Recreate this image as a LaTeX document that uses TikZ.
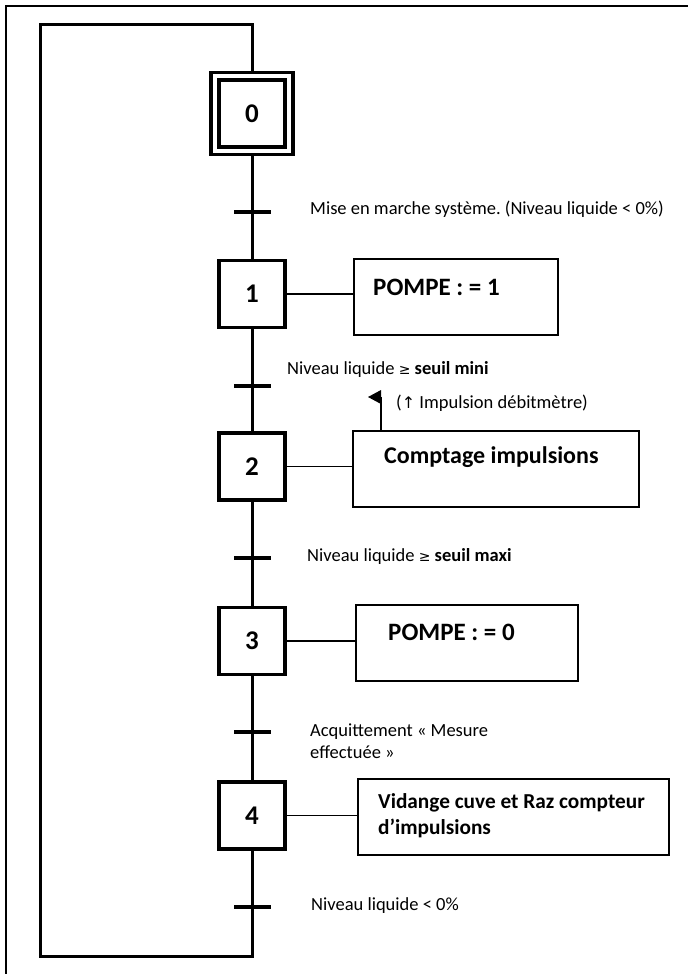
\documentclass[tikz,border=0pt]{standalone}
\usepackage{fontspec}
\setmainfont{Carlito}
\newfontfamily\symfont{DejaVu Sans}
\usetikzlibrary{positioning}
\frenchspacing
\begin{document}
\begin{tikzpicture}[x=1pt,y=-1pt,
  stepbox/.style={draw,line width=3.4pt,minimum width=66pt,minimum height=67pt,inner sep=0pt,font=\fontsize{27}{29}\selectfont\bfseries},
  actbox/.style={draw,line width=1.6pt,inner sep=0pt,anchor=north west},
  acttext/.style={anchor=west,inner sep=0pt,font=\fontsize{25}{28}\selectfont\bfseries},
  lbl/.style={anchor=west,inner sep=0pt,font=\fontsize{18.5}{22}\selectfont},
  flow/.style={line width=3pt},
  trans/.style={line width=3.2pt},
  link/.style={line width=1.5pt}]
\useasboundingbox (0,0) rectangle (688,974);
% outer frame (top and left)
\draw[line width=1.8pt] (6,974) -- (6,6) -- (688,6);

% step 0 (double box)
\node[draw,line width=3.8pt,minimum width=82pt,minimum height=82pt,inner sep=0pt] (s0) at (252,113.5) {};
\node[draw,line width=3.2pt,minimum width=66pt,minimum height=67pt,inner sep=0pt,font=\fontsize{27}{29}\selectfont\bfseries] (s0i) at (252,113.5) {0};

% steps
\node[stepbox] (s1) at (252,294) {1};
\node[stepbox] (s2) at (252,466.5) {2};
\node[stepbox] (s3) at (252,641) {3};
\node[stepbox] (s4) at (252,815.5) {4};

% action boxes
\node[actbox,minimum width=204pt,minimum height=76pt] (a1) at (353,258) {};
\node[acttext] (t1) at (373,287) {POMPE : = 1};
\node[actbox,minimum width=286pt,minimum height=76pt] (a2) at (352,430) {};
\node[acttext,font=\fontsize{24}{27}\selectfont\bfseries] (t2) at (384,457) {Comptage impulsions};
\node[actbox,minimum width=222pt,minimum height=76pt] (a3) at (355,604) {};
\node[acttext] (t3) at (388,632) {POMPE : = 0};
\node[actbox,minimum width=311pt,minimum height=76pt] (a4) at (357,778) {};
\node[acttext,font=\fontsize{21.3}{24}\selectfont\bfseries] (t4a) at (378,803) {Vidange cuve et Raz compteur};
\node[acttext,font=\fontsize{21.3}{24}\selectfont\bfseries] (t4b) at (378,828) {d’impulsions};

% links step -> action
\draw[link] (s1.east) -- (s1.east -| a1.west);
\draw[link] (s2.east) -- (s2.east -| a2.west);
\draw[link] (s3.east) -- (s3.east -| a3.west);
\draw[link] (s4.east) -- (s4.east -| a4.west);

% transitions coordinates
\coordinate (c1) at (252,212);
\coordinate (c2) at (252,386);
\coordinate (c3) at (252,558);
\coordinate (c4) at (252,732);
\coordinate (c5) at (252,907);
\coordinate (lb) at (252,956);
\coordinate (ll) at (40,956);
\coordinate (lt) at (40,25);
\coordinate (rt) at (252,25);

% flow lines
\draw[flow] (s0.south) -- (s1.north);
\draw[flow] (s1.south) -- (s2.north);
\draw[flow] (s2.south) -- (s3.north);
\draw[flow] (s3.south) -- (s4.north);
\draw[flow,line join=miter] (s4.south) -- (lb) -- (ll) -- (lt) -- (rt) -- (s0.north);

% transition bars
\foreach \c in {c1,c2,c3,c4,c5}{
  \draw[trans] ([xshift=-18pt]\c) -- ([xshift=19pt]\c);
}

% transition labels
\node[lbl] (r1) at (310,209) {Mise en marche système. (Niveau liquide < 0\%)};
\node[lbl] (r2) at (287,369) {Niveau liquide {\symfont\fontsize{14}{16}\selectfont ≥} \textbf{seuil mini}};
\node[lbl] (r3) at (307,556) {Niveau liquide {\symfont\fontsize{14}{16}\selectfont ≥} \textbf{seuil maxi}};
\node[lbl,align=left] (r4) at (310,741) {Acquittement « Mesure\\effectuée »};
\node[lbl] (r5) at (311,906) {Niveau liquide < 0\%};

% event arrow on action 2
\coordinate (ev) at (381,397);
\draw[line width=1.6pt] (a2.north -| ev) -- (ev);
\fill (ev) ++(0,-7) -- ++(0,14) -- ++(-13,-7) -- cycle;
\node[lbl] (r6) at (396,403) {({\symfont\fontsize{16}{18}\selectfont ↑} Impulsion débitmètre)};
\end{tikzpicture}
\end{document}
